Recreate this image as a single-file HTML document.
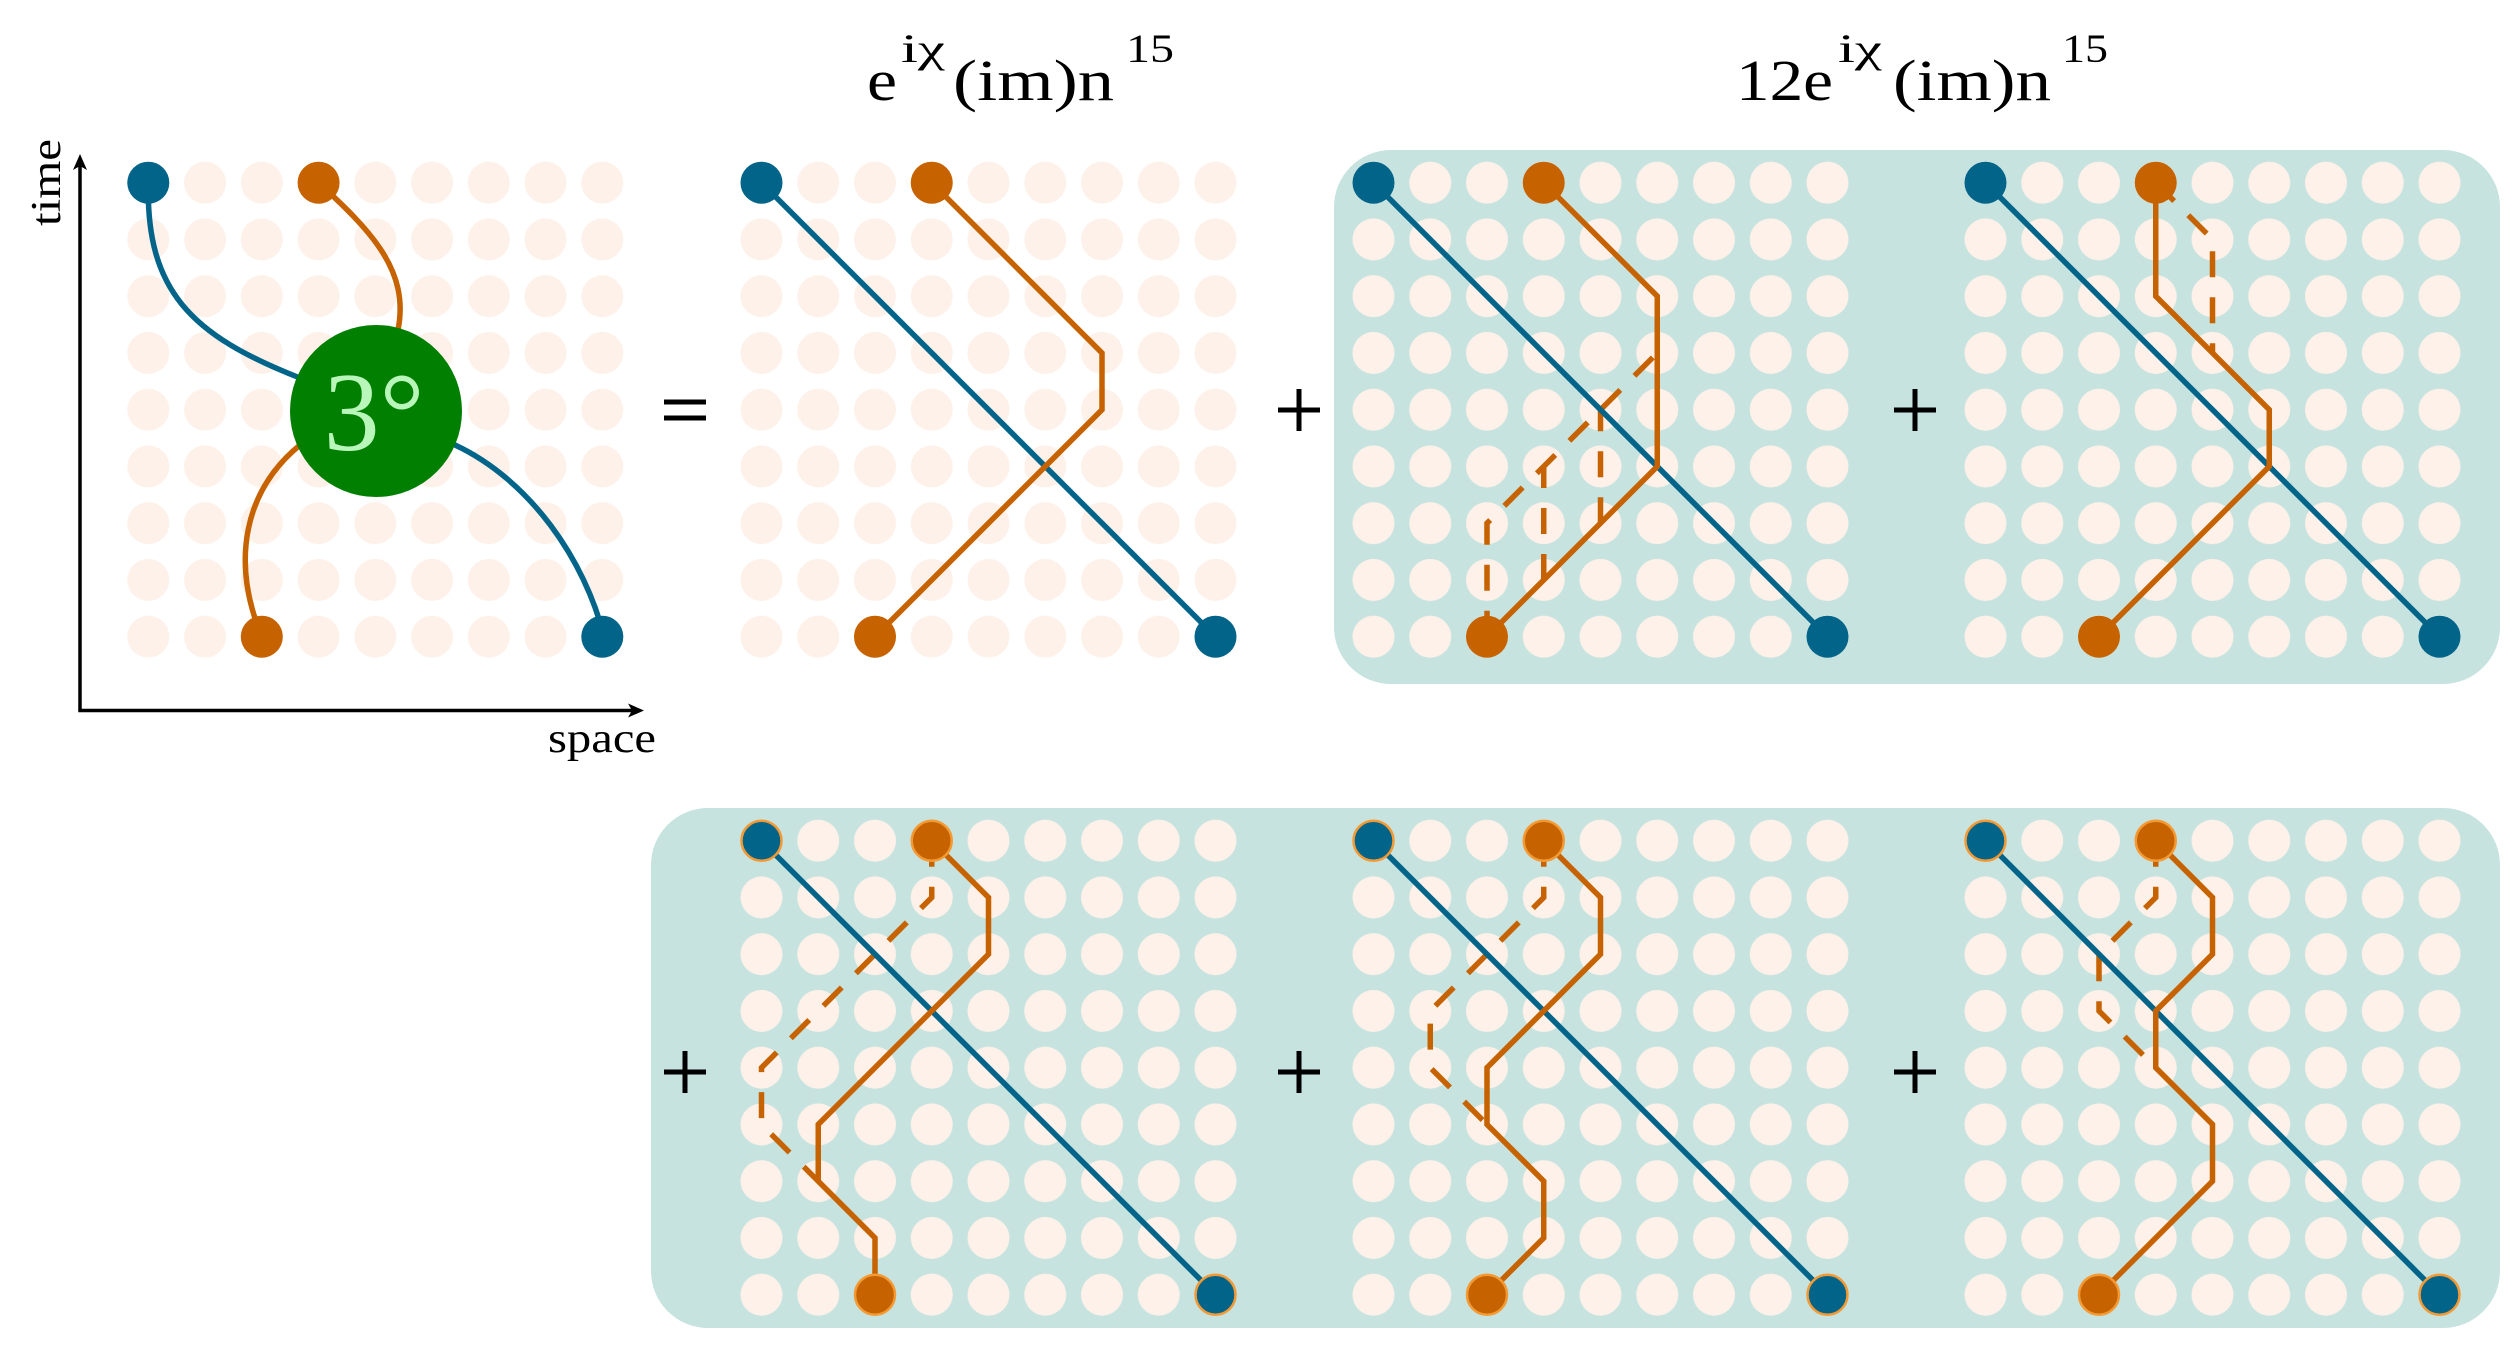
<!DOCTYPE html>
<html><head><meta charset="utf-8"><style>
html,body{margin:0;padding:0;background:#fff;}
svg{display:block;}
.serif{font-family:"Liberation Serif","DejaVu Serif",serif;}
</style></head><body>
<svg width="2520" height="1360" viewBox="0 0 2520 1360" xmlns="http://www.w3.org/2000/svg">
<defs>
<pattern id="g0" patternUnits="userSpaceOnUse" x="119.925" y="154.325" width="56.75" height="56.75"><circle cx="28.375" cy="28.375" r="21" fill="#fdf1e9"/></pattern>
<pattern id="g1" patternUnits="userSpaceOnUse" x="733.125" y="154.325" width="56.75" height="56.75"><circle cx="28.375" cy="28.375" r="21" fill="#fdf1e9"/></pattern>
<pattern id="g2" patternUnits="userSpaceOnUse" x="1345.125" y="154.325" width="56.75" height="56.75"><circle cx="28.375" cy="28.375" r="21" fill="#fdf1e9"/></pattern>
<pattern id="g3" patternUnits="userSpaceOnUse" x="1957.125" y="154.325" width="56.75" height="56.75"><circle cx="28.375" cy="28.375" r="21" fill="#fdf1e9"/></pattern>
<pattern id="g4" patternUnits="userSpaceOnUse" x="733.125" y="812.325" width="56.75" height="56.75"><circle cx="28.375" cy="28.375" r="21" fill="#fdf1e9"/></pattern>
<pattern id="g5" patternUnits="userSpaceOnUse" x="1345.125" y="812.325" width="56.75" height="56.75"><circle cx="28.375" cy="28.375" r="21" fill="#fdf1e9"/></pattern>
<pattern id="g6" patternUnits="userSpaceOnUse" x="1957.125" y="812.325" width="56.75" height="56.75"><circle cx="28.375" cy="28.375" r="21" fill="#fdf1e9"/></pattern>
</defs>

<rect x="1334" y="150" width="1166" height="534" rx="57" fill="#c6e3df"/>
<rect x="651" y="808" width="1849" height="520" rx="57" fill="#c6e3df"/>

<rect x="119.925" y="154.325" width="510.75" height="510.75" fill="url(#g0)"/>
<rect x="733.125" y="154.325" width="510.75" height="510.75" fill="url(#g1)"/>
<rect x="1345.125" y="154.325" width="510.75" height="510.75" fill="url(#g2)"/>
<rect x="1957.125" y="154.325" width="510.75" height="510.75" fill="url(#g3)"/>
<rect x="733.125" y="812.325" width="510.75" height="510.75" fill="url(#g4)"/>
<rect x="1345.125" y="812.325" width="510.75" height="510.75" fill="url(#g5)"/>
<rect x="1957.125" y="812.325" width="510.75" height="510.75" fill="url(#g6)"/>

<g stroke="#000" stroke-width="3.5" fill="none">
<line x1="80" y1="710.5" x2="80" y2="162"/>
<line x1="78.3" y1="710.5" x2="636" y2="710.5"/>
</g>
<path d="M80,154 L73,170 L80,166 L87,170 Z" fill="#000"/>
<path d="M644,710.5 L628,703.5 L632,710.5 L628,717.5 Z" fill="#000"/>
<text class="serif" x="0" y="0" transform="translate(60,226) rotate(-90)" font-size="42" textLength="87" lengthAdjust="spacingAndGlyphs">time</text>
<text class="serif" x="548" y="752" font-size="42" textLength="108" lengthAdjust="spacingAndGlyphs">space</text>

<g fill="none" stroke-width="5.5">
<path d="M148.3,182.7 C146,290 190,335 300,378 L376,411 L455,445 C530,480 585,560 604,636.7" stroke="#03648a"/>
<path d="M318.6,182.7 C370,230 410,270 398,330" stroke="#c66300"/>
<path d="M300,445 C245,490 230,560 261.8,636.7" stroke="#c66300"/>
</g>
<circle cx="376" cy="411" r="86" fill="#007f00"/>
<text class="serif" x="374" y="450" text-anchor="middle" font-size="112" fill="#b9f6b9">3°</text>
<g fill="#03648a"><circle cx="148.3" cy="182.7" r="21"/><circle cx="602.3" cy="636.7" r="21"/></g>
<g fill="#c66300"><circle cx="318.6" cy="182.7" r="21"/><circle cx="261.8" cy="636.7" r="21"/></g>

<g fill="none" stroke="#c66300" stroke-width="5.5" stroke-dasharray="26 20">
<path d="M1487,636.7 L1487,523.2 L1657.25,352.95"/>
<path d="M1543.75,579.95 L1543.75,466.45"/>
<path d="M1600.5,523.2 L1600.5,409.7"/>
<path d="M2155.75,182.7 L2212.5,239.45 L2212.5,352.95"/>
<path d="M931.75,840.7 L931.75,897.45 L761.5,1067.7 L761.5,1124.45 L818.25,1181.2"/>
<path d="M1543.75,840.7 L1543.75,897.45 L1430.25,1010.95 L1430.25,1067.7 L1487,1124.45"/>
<path d="M2155.75,840.7 L2155.75,897.45 L2099,954.2 L2099,1010.95 L2155.75,1067.7"/>
</g>

<g stroke="#03648a" stroke-width="5.5" fill="none">
<line x1="761.5" y1="182.7" x2="1215.5" y2="636.7"/>
<line x1="1373.5" y1="182.7" x2="1827.5" y2="636.7"/>
<line x1="1985.5" y1="182.7" x2="2439.5" y2="636.7"/>
<line x1="761.5" y1="840.7" x2="1215.5" y2="1294.7"/>
<line x1="1373.5" y1="840.7" x2="1827.5" y2="1294.7"/>
<line x1="1985.5" y1="840.7" x2="2439.5" y2="1294.7"/>
</g>

<g stroke="#c66300" stroke-width="5.5" fill="none" stroke-linejoin="miter">
<polyline points="931.75,182.7 1102,353 1102,409.7 875,636.7"/>
<polyline points="1543.75,182.7 1657.25,296.2 1657.25,466.45 1487,636.7"/>
<polyline points="2155.75,182.7 2155.75,296.2 2269.25,409.7 2269.25,466.45 2099,636.7"/>
<polyline points="931.75,840.7 988.5,897.45 988.5,954.2 818.25,1124.45 818.25,1181.2 875,1237.95 875,1294.7"/>
<polyline points="1543.75,840.7 1600.5,897.45 1600.5,954.2 1487,1067.7 1487,1124.45 1543.75,1181.2 1543.75,1237.95 1487,1294.7"/>
<polyline points="2155.75,840.7 2212.5,897.45 2212.5,954.2 2155.75,1010.95 2155.75,1067.7 2212.5,1124.45 2212.5,1181.2 2099,1294.7"/>
</g>

<g fill="#03648a">
<circle cx="761.5" cy="182.7" r="21"/><circle cx="1215.5" cy="636.7" r="21"/>
<circle cx="1373.5" cy="182.7" r="21"/><circle cx="1827.5" cy="636.7" r="21"/>
<circle cx="1985.5" cy="182.7" r="21"/><circle cx="2439.5" cy="636.7" r="21"/>
</g>
<g fill="#c66300">
<circle cx="931.75" cy="182.7" r="21"/><circle cx="875" cy="636.7" r="21"/>
<circle cx="1543.75" cy="182.7" r="21"/><circle cx="1487" cy="636.7" r="21"/>
<circle cx="2155.75" cy="182.7" r="21"/><circle cx="2099" cy="636.7" r="21"/>
</g>
<g fill="#03648a" stroke="#f39a35" stroke-width="2.5">
<circle cx="761.5" cy="840.7" r="20"/><circle cx="1215.5" cy="1294.7" r="20"/>
<circle cx="1373.5" cy="840.7" r="20"/><circle cx="1827.5" cy="1294.7" r="20"/>
<circle cx="1985.5" cy="840.7" r="20"/><circle cx="2439.5" cy="1294.7" r="20"/>
</g>
<g fill="#c66300" stroke="#f39a35" stroke-width="2.5">
<circle cx="931.75" cy="840.7" r="20"/><circle cx="875" cy="1294.7" r="20"/>
<circle cx="1543.75" cy="840.7" r="20"/><circle cx="1487" cy="1294.7" r="20"/>
<circle cx="2155.75" cy="840.7" r="20"/><circle cx="2099" cy="1294.7" r="20"/>
</g>

<g stroke="#000" stroke-width="5">
<line x1="664" y1="402" x2="706" y2="402"/><line x1="664" y1="418" x2="706" y2="418"/>
<line x1="1278" y1="410" x2="1320" y2="410"/><line x1="1299" y1="389" x2="1299" y2="431"/>
<line x1="1894" y1="410" x2="1936" y2="410"/><line x1="1915" y1="389" x2="1915" y2="431"/>
<line x1="664" y1="1072" x2="706" y2="1072"/><line x1="685" y1="1051" x2="685" y2="1093"/>
<line x1="1278" y1="1072" x2="1320" y2="1072"/><line x1="1299" y1="1051" x2="1299" y2="1093"/>
<line x1="1894" y1="1072" x2="1936" y2="1072"/><line x1="1915" y1="1051" x2="1915" y2="1093"/>
</g>

<g class="serif" fill="#000">
<text x="867" y="100" font-size="58" textLength="30" lengthAdjust="spacingAndGlyphs">e</text>
<text x="901" y="62" font-size="40" textLength="44" lengthAdjust="spacingAndGlyphs">iχ</text>
<text x="953" y="100" font-size="58" textLength="161" lengthAdjust="spacingAndGlyphs">(im)n</text>
<text x="1126" y="62" font-size="40" textLength="48" lengthAdjust="spacingAndGlyphs">15</text>

<text x="1736" y="100" font-size="58" textLength="97" lengthAdjust="spacingAndGlyphs">12e</text>
<text x="1838" y="62" font-size="40" textLength="44" lengthAdjust="spacingAndGlyphs">iχ</text>
<text x="1893" y="100" font-size="58" textLength="158" lengthAdjust="spacingAndGlyphs">(im)n</text>
<text x="2062" y="62" font-size="40" textLength="46" lengthAdjust="spacingAndGlyphs">15</text>
</g>
</svg>
</body></html>
